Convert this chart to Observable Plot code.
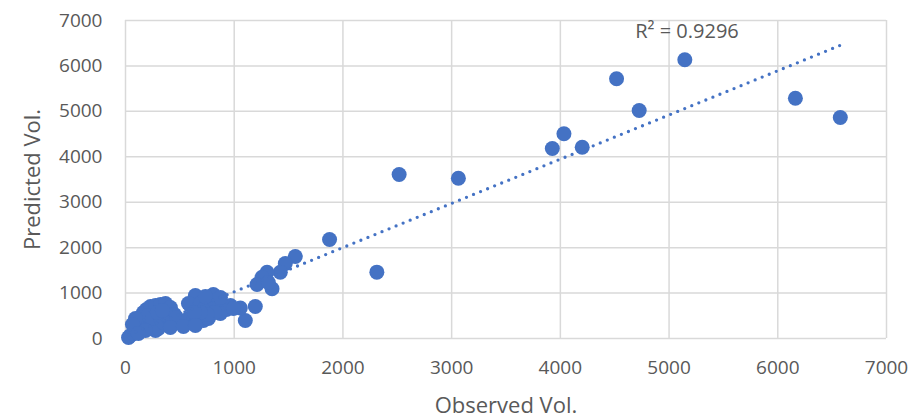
<!DOCTYPE html>
<html>
<head>
<meta charset="utf-8">
<script src="https://cdn.jsdelivr.net/npm/d3@7"></script>
<script src="https://cdn.jsdelivr.net/npm/@observablehq/plot@0.6"></script>
<style>
  html, body { margin: 0; padding: 0; background: #ffffff; }
  #chart { width: 921px; height: 419px; }
</style>
</head>
<body>
<div id="chart"></div>
<script>
// Observed vs. predicted volumes
const observed = [
  6575, 6162, 5145, 4517, 4725, 4033, 3926, 4201, 3062, 2517, 2312, 1877,
  1562, 1470, 1424, 1302, 1256, 1210, 1348, 1194, 1102, 1056, 1314,
  28, 46, 73, 101, 119, 138, 147, 165, 193, 230, 276, 322, 368, 413, 450,
  184, 230, 276, 303, 211, 248, 322, 349, 386, 432, 487, 524, 469, 579, 625,
  661, 717, 763, 597, 643, 579, 689, 735, 772, 818, 864, 891, 928, 873, 818,
  753, 689, 634, 965, 808, 294, 340, 92, 64, 413, 184, 119, 533, 643, 992,
  735, 873
];
const predicted = [
  4865, 5290, 6135, 5717, 5019, 4506, 4182, 4211, 3529, 3610, 1461, 2179,
  1805, 1651, 1459, 1459, 1349, 1189, 1094, 704, 396, 671, 1232,
  22, 66, 110, 176, 264, 352, 462, 572, 638, 704, 726, 748, 770, 682, 528,
  396, 286, 176, 220, 506, 440, 440, 352, 484, 352, 352, 330, 462, 440, 396,
  418, 396, 440, 726, 946, 770, 770, 682, 792, 836, 814, 704, 638, 550, 572,
  528, 572, 572, 726, 968, 572, 616, 440, 308, 242, 176, 110, 264, 286, 660,
  924, 902
];
const xTicks = [0, 1000, 2000, 3000, 4000, 5000, 6000, 7000];
const yTicks = [0, 1000, 2000, 3000, 4000, 5000, 6000, 7000];
const xLabel = "Observed Vol.";
const yLabel = "Predicted Vol.";
// Linear trendline (as shown in the reference)
const trendSlope = 0.973;
const trendIntercept = 56;
const rSquaredText = "R² = 0.9296";
const rSquaredAt = [{x: 5165, y: 6760, text: rSquaredText}];

const points = observed.map((o, i) => ({observed: o, predicted: predicted[i]}));
const [xMin, xMax] = d3.extent(observed);
const trend = [xMin, xMax].map(x => ({x, y: trendIntercept + trendSlope * x}));

const blue = "#4472C4";
const gray = "#595959";
const font = "'Open Sans', 'Liberation Sans', sans-serif";

const chart = Plot.plot({
  width: 921,
  height: 419,
  marginLeft: 125,
  marginRight: 35,
  marginTop: 20,
  marginBottom: 81,
  style: {fontFamily: font, color: gray, background: "#ffffff", overflow: "visible"},
  x: {domain: [0, 7000]},
  y: {domain: [0, 7000]},
  marks: [
    Plot.gridX(xTicks, {stroke: "#d9d9d9", strokeOpacity: 1, strokeWidth: 1.5}),
    Plot.gridY(yTicks, {stroke: "#d9d9d9", strokeOpacity: 1, strokeWidth: 1.5}),
    Plot.axisX(xTicks, {tickSize: 0, tickPadding: 22, tickFormat: d3.format("d"), fontSize: 19, label: null}),
    Plot.axisY(yTicks, {tickSize: 0, tickPadding: 23, tickFormat: d3.format("d"), fontSize: 19, label: null}),
    Plot.dot(points, {x: "observed", y: "predicted", r: 7.5, fill: blue, stroke: "none"}),
    Plot.line(trend, {x: "x", y: "y", stroke: blue, strokeWidth: 3.3, strokeDasharray: "0 7.6", strokeLinecap: "round"}),
    Plot.text(rSquaredAt, {x: "x", y: "y", text: "text", fontSize: 20, fill: gray, textAnchor: "middle", lineAnchor: "middle"}),
    Plot.text([xLabel], {text: d => d, frameAnchor: "bottom", dy: 67, textAnchor: "middle", lineAnchor: "middle", fontSize: 22, fill: gray}),
    Plot.text([yLabel], {text: d => d, frameAnchor: "left", dx: -93, rotate: -90, textAnchor: "middle", lineAnchor: "middle", fontSize: 22, fill: gray})
  ]
});
document.getElementById("chart").appendChild(chart);
</script>
</body>
</html>
